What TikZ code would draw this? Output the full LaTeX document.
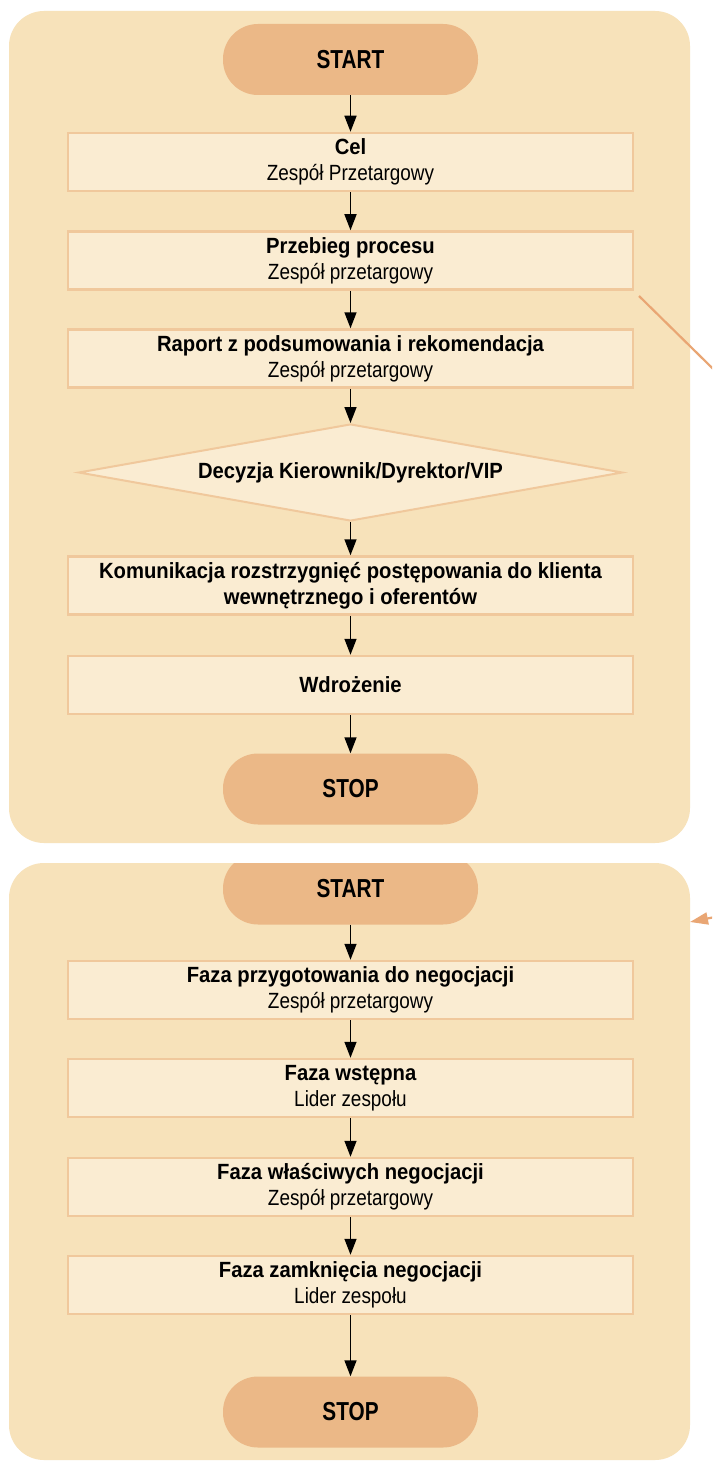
\documentclass[tikz,border=0pt]{standalone}
\usepackage{fontspec}
\newfontfamily\fb{Liberation Sans}[FakeStretch=0.92]
\newfontfamily\fr{Liberation Sans}[FakeStretch=0.86]
\newfontfamily\fs{Liberation Sans}[FakeStretch=0.8]
\usetikzlibrary{arrows.meta,shapes.geometric}
\definecolor{panelc}{HTML}{F7E2BA}
\definecolor{boxc}{HTML}{FAECD2}
\definecolor{boxline}{HTML}{F0C89C}
\definecolor{pillc}{HTML}{EBB887}
\definecolor{connc}{HTML}{E9A674}
\begin{document}
\begin{tikzpicture}[x=1pt,y=-1pt,
  stepbox/.style={draw=boxline, fill=boxc, line width=2.5pt, minimum width=565pt, minimum height=58pt, inner sep=0pt, align=center, font=\fontsize{22}{26}\selectfont},
  pill/.style={fill=pillc, rounded corners=35pt, minimum width=255pt, minimum height=71pt, inner sep=0pt, font=\fs\bfseries\fontsize{26}{30}\selectfont},
  dec/.style={diamond, draw=boxline, fill=boxc, line width=2pt, aspect=5.6, minimum width=544pt, minimum height=97pt, inner sep=0pt, font=\fb\bfseries\fontsize{22}{26}\selectfont},
  flow/.style={line width=1.5pt, -{Triangle[length=16pt,width=12pt]}},
  conn/.style={draw=connc, line width=2.2pt}
]
\clip (0,0) rectangle (712,1463);
\fill[white] (0,0) rectangle (712,1463);
% panels
\fill[panelc, rounded corners=35pt] (9,11) rectangle (690,843);
\fill[panelc, rounded corners=35pt] (9,863) rectangle (690,1460);
% panel 1
\node[pill] (s1) at (350.5,59.5) {START};
\node[stepbox] (n1) at (350.5,162) {{\fb\bfseries Cel}\\{\fr Zespół Przetargowy}};
\node[stepbox] (n2) at (350.5,260.5) {{\fb\bfseries Przebieg procesu}\\{\fr Zespół przetargowy}};
\node[stepbox] (n3) at (350.5,358.5) {{\fb\bfseries Raport z podsumowania i rekomendacja}\\{\fr Zespół przetargowy}};
\node[dec] (d1) at (350.5,472.5) {Decyzja Kierownik/Dyrektor/VIP};
\node[stepbox, font=\fb\bfseries\fontsize{22}{26}\selectfont] (n4) at (350.5,585.5) {Komunikacja rozstrzygnięć postępowania do klienta\\wewnętrznego i oferentów};
\node[stepbox, font=\fb\bfseries\fontsize{22}{26}\selectfont] (n5) at (350.5,685) {Wdrożenie};
\node[pill] (e1) at (350.5,789) {STOP};
\draw[flow] (s1) -- (n1);
\draw[flow] (n1) -- (n2);
\draw[flow] (n2) -- (n3);
\draw[flow] (n3) -- (d1);
\draw[flow] (d1) -- (n4);
\draw[flow] (n4) -- (n5);
\draw[flow] (n5) -- (e1);
% panel 2
\begin{scope}
  \clip (0,863) rectangle (712,1463);
  \node[pill] (s2) at (350.5,889) {START};
\end{scope}
\node[stepbox] (m1) at (350.5,990) {{\fb\bfseries Faza przygotowania do negocjacji}\\{\fr Zespół przetargowy}};
\node[stepbox] (m2) at (350.5,1088) {{\fb\bfseries Faza wstępna}\\{\fr Lider zespołu}};
\node[stepbox] (m3) at (350.5,1187) {{\fb\bfseries Faza właściwych negocjacji}\\{\fr Zespół przetargowy}};
\node[stepbox] (m4) at (350.5,1285) {{\fb\bfseries Faza zamknięcia negocjacji}\\{\fr Lider zespołu}};
\node[pill] (e2) at (350.5,1412) {STOP};
\draw[flow] (s2) -- (m1);
\draw[flow] (m1) -- (m2);
\draw[flow] (m2) -- (m3);
\draw[flow] (m3) -- (m4);
\draw[flow] (m4) -- (e2);
% side connectors
\coordinate (a1) at (639,296);
\coordinate (a2) at (760,415);
\draw[conn] (a1) -- (a2);
\coordinate (b1) at (750,910);
\coordinate (b2) at (690,922);
\draw[conn, -{Triangle[length=18pt,width=12pt]}] (b1) -- (b2);
\end{tikzpicture}
\end{document}
